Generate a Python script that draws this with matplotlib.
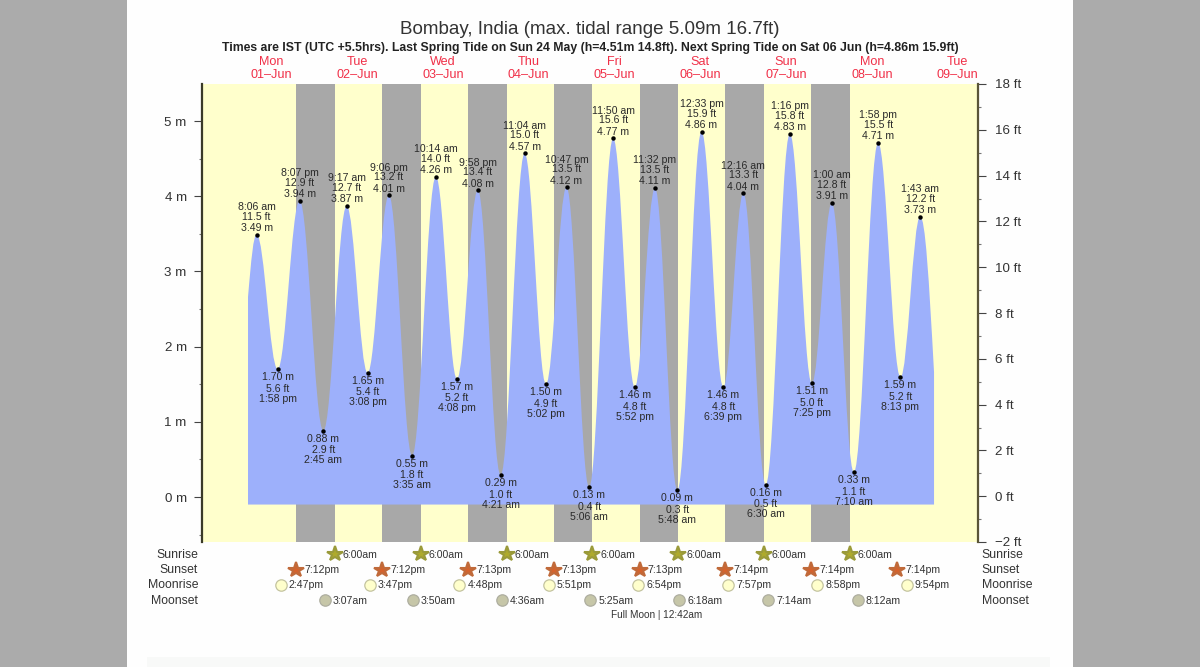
import matplotlib
matplotlib.use("Agg")
import matplotlib.pyplot as plt
from matplotlib.patches import PathPatch, Rectangle
from matplotlib.path import Path
from matplotlib.ticker import FixedLocator

plt.rcParams['font.family'] = ['Liberation Sans', 'DejaVu Sans']

day_names = ['Mon', 'Tue', 'Wed', 'Thu', 'Fri', 'Sat', 'Sun', 'Mon', 'Tue']
day_dates = ['01–Jun', '02–Jun', '03–Jun', '04–Jun', '05–Jun', '06–Jun', '07–Jun', '08–Jun', '09–Jun']

# high and low tides, day = days after 01-Jun
tide_day = [0, 0, 0, 1, 1, 1, 1, 2, 2, 2, 2, 3, 3, 3, 3, 4, 4, 4, 4, 5, 5, 5, 6, 6, 6, 6, 7, 7, 7, 7, 8]
tide_time = ['8:06 am', '1:58 pm', '8:07 pm', '2:45 am', '9:17 am', '3:08 pm', '9:06 pm', '3:35 am',
             '10:14 am', '4:08 pm', '9:58 pm', '4:21 am', '11:04 am', '5:02 pm', '10:47 pm', '5:06 am',
             '11:50 am', '5:52 pm', '11:32 pm', '5:48 am', '12:33 pm', '6:39 pm', '12:16 am', '6:30 am',
             '1:16 pm', '7:25 pm', '1:00 am', '7:10 am', '1:58 pm', '8:13 pm', '1:43 am']
tide_m = [3.49, 1.70, 3.94, 0.88, 3.87, 1.65, 4.01, 0.55, 4.26, 1.57, 4.08, 0.29, 4.57, 1.50, 4.12, 0.13,
          4.77, 1.46, 4.11, 0.09, 4.86, 1.46, 4.04, 0.16, 4.83, 1.51, 3.91, 0.33, 4.71, 1.59, 3.73]
tide_ft = [11.5, 5.6, 12.9, 2.9, 12.7, 5.4, 13.2, 1.8, 14.0, 5.2, 13.4, 1.0, 15.0, 4.9, 13.5, 0.4,
           15.6, 4.8, 13.5, 0.3, 15.9, 4.8, 13.3, 0.5, 15.8, 5.0, 12.8, 1.1, 15.5, 5.2, 12.2]

# where the water shape starts and stops, hours after 01-Jun 00:00
start_hour, start_m = 5.68, 2.66
end_hour, end_m = 197.6, 1.66
floor_m = -0.1

sunrise_day = [1, 2, 3, 4, 5, 6, 7]
sunrise_time = ['6:00am'] * 7
sunset_day = [0, 1, 2, 3, 4, 5, 6, 7]
sunset_time = ['7:12pm', '7:12pm', '7:13pm', '7:13pm', '7:13pm', '7:14pm', '7:14pm', '7:14pm']
moonrise_day = [0, 1, 2, 3, 4, 5, 6, 7]
moonrise_time = ['2:47pm', '3:47pm', '4:48pm', '5:51pm', '6:54pm', '7:57pm', '8:58pm', '9:54pm']
moonset_day = [1, 2, 3, 4, 5, 6, 7]
moonset_time = ['3:07am', '3:50am', '4:36am', '5:25am', '6:18am', '7:14am', '8:12am']

m_ticks = [0, 1, 2, 3, 4, 5]
m_minor = [-0.5, 0.5, 1.5, 2.5, 3.5, 4.5]
m_labels = ['0 m', '1 m', '2 m', '3 m', '4 m', '5 m']
ft_ticks = [-2, 0, 2, 4, 6, 8, 10, 12, 14, 16, 18]
ft_minor = [-1, 1, 3, 5, 7, 9, 11, 13, 15, 17]
ft_labels = ['−2 ft', '0 ft', '2 ft', '4 ft', '6 ft', '8 ft', '10 ft', '12 ft', '14 ft', '16 ft', '18 ft']

YELLOW = '#ffffcc'
NIGHT = '#a8a8a8'
WATER = '#9db0fb'
TEXT = '#2a2a2a'
W, H = 1200, 667


def hours(day, label):
    # '8:06 am' or '7:12pm' on a day -> hours after 01-Jun 00:00
    label = label.replace(' ', '')
    hh, mm = label[:-2].split(':')
    hh = int(hh) % 12
    if label.endswith('pm'):
        hh += 12
    return day * 24 + hh + int(mm) / 60


def row_y(py):
    return (542 - py) / 458


fig = plt.figure(figsize=(12, 6.67), dpi=100, facecolor='#ababab')
# page behind the chart
fig.patches.append(Rectangle((127 / W, 0), 946 / W, 1, transform=fig.transFigure, facecolor='#fefefe', edgecolor='none', zorder=-2))
fig.patches.append(Rectangle((147 / W, 0), 903 / W, 10 / H, transform=fig.transFigure, facecolor='#f8f9f8', edgecolor='none', zorder=-1))

ax = fig.add_axes([202 / W, (H - 542) / H, 776 / W, 458 / H])
ax.set_facecolor(YELLOW)
ax.set_xlim(-7.19, 209.9)
ax.set_ylim(-0.598, 5.492)

# night bands
for d1, t1, d2, t2 in zip(sunset_day, sunset_time, sunrise_day, sunrise_time):
    ax.axvspan(hours(d1, t1), hours(d2, t2), color=NIGHT, lw=0, zorder=1)

tide_hours = [hours(d, t) for d, t in zip(tide_day, tide_time)]

# water shape: bezier from tide to tide, flat at each high and low
k = 0.37
verts = [(start_hour, floor_m), (start_hour, start_m)]
codes = [Path.MOVETO, Path.LINETO]
dt = tide_hours[0] - start_hour
verts += [(start_hour + k * dt, start_m + 0.6 * (tide_m[0] - start_m)), (tide_hours[0] - k * dt, tide_m[0]), (tide_hours[0], tide_m[0])]
codes += [Path.CURVE4] * 3
for i in range(len(tide_m) - 1):
    dt = tide_hours[i + 1] - tide_hours[i]
    verts += [(tide_hours[i] + k * dt, tide_m[i]), (tide_hours[i + 1] - k * dt, tide_m[i + 1]), (tide_hours[i + 1], tide_m[i + 1])]
    codes += [Path.CURVE4] * 3
dt = end_hour - tide_hours[-1]
verts += [(tide_hours[-1] + k * dt, tide_m[-1]), (end_hour - k * dt, end_m + 0.6 * (tide_m[-1] - end_m)), (end_hour, end_m)]
codes += [Path.CURVE4] * 3
verts += [(end_hour, floor_m), (start_hour, floor_m)]
codes += [Path.LINETO, Path.CLOSEPOLY]
ax.add_patch(PathPatch(Path(verts, codes), facecolor=WATER, edgecolor='none', zorder=2))

# tide dots and their labels
ax.plot(tide_hours, tide_m, 'o', color='black', ms=3.2, mew=0, zorder=4)
for i in range(len(tide_m)):
    sign = 1 if i % 2 == 0 else -1
    if sign > 0:
        rows = [(f'{tide_m[i]:.2f} m', 6.5), (f'{tide_ft[i]:.1f} ft', 18), (tide_time[i], 27.5)]
    else:
        rows = [(f'{tide_m[i]:.2f} m', 8), (f'{tide_ft[i]:.1f} ft', 19.5), (tide_time[i], 29.5)]
    for txt, off in rows:
        ax.annotate(txt, (tide_hours[i], tide_m[i]), xytext=(0, sign * off), textcoords='offset pixels',
                    ha='center', va='center', fontsize=7.6, color=TEXT, zorder=5)

# axes
for s in ['top', 'bottom', 'right']:
    ax.spines[s].set_visible(False)
ax.spines['left'].set_linewidth(1.6)
ax.spines['left'].set_color('#3a3a28')
ax.set_xticks([])
ax.yaxis.set_major_locator(FixedLocator(m_ticks))
ax.yaxis.set_minor_locator(FixedLocator(m_minor))
ax.set_yticklabels(m_labels)
ax.tick_params(axis='y', which='major', length=6, width=0.8, pad=5, labelsize=9.6, labelcolor='#333333', color='#444444')
ax.tick_params(axis='y', which='minor', length=2.5, width=0.8, color='#777777')

ax2 = ax.twinx()
ax2.set_ylim(-2, 18)
for s in ['top', 'bottom', 'left']:
    ax2.spines[s].set_visible(False)
ax2.spines['right'].set_linewidth(1.6)
ax2.spines['right'].set_color('#5a5538')
ax2.yaxis.set_major_locator(FixedLocator(ft_ticks))
ax2.yaxis.set_minor_locator(FixedLocator(ft_minor))
ax2.set_yticklabels(ft_labels)
ax2.tick_params(axis='y', which='major', length=6, width=0.8, pad=6, labelsize=9.6, labelcolor='#333333', color='#444444')
ax2.tick_params(axis='y', which='minor', length=2.5, width=0.8, color='#777777')

# headings
fig.text(590 / W, 1 - 29 / H, 'Bombay, India (max. tidal range 5.09m 16.7ft)', ha='center', va='center',
         fontsize=13.5, color='#333333')
fig.text(590 / W, 1 - 47.5 / H,
         'Times are IST (UTC +5.5hrs). Last Spring Tide on Sun 24 May (h=4.51m 14.8ft). Next Spring Tide on Sat 06 Jun (h=4.86m 15.9ft)',
         ha='center', va='center', fontsize=8.8, fontweight='bold', color='#222222')
trans = ax.get_xaxis_transform()
for i in range(len(day_names)):
    x = i * 24 + 12.2
    ax.text(x, row_y(62), day_names[i], transform=trans, ha='center', va='center', fontsize=9.1, color='#f03048', clip_on=False)
    ax.text(x, row_y(75), day_dates[i], transform=trans, ha='center', va='center', fontsize=9.1, color='#f03048', clip_on=False)

# sun and moon rows
rows = [('Sunrise', 554.5, sunrise_day, sunrise_time, '*', '#aeaa2c', '#9a9a3a', 11.5, 1.5),
        ('Sunset', 570, sunset_day, sunset_time, '*', '#d4622c', '#c06a3a', 11.5, 1.5),
        ('Moonrise', 585, moonrise_day, moonrise_time, 'o', '#ffffcc', '#c4c4a0', 8.2, 0.9),
        ('Moonset', 600.5, moonset_day, moonset_time, 'o', '#c6c6a8', '#aeaea0', 8.2, 0.9)]
for name, py, days, times, marker, face, edge, size, mew in rows:
    ax.text(-0.005, row_y(py), name, transform=ax.transAxes, ha='right', va='center', fontsize=8.8, color='#333333', clip_on=False)
    ax.text(1.005, row_y(py), name, transform=ax.transAxes, ha='left', va='center', fontsize=8.8, color='#333333', clip_on=False)
    for d, t in zip(days, times):
        x = hours(d, t)
        ax.plot([x], [row_y(py - 0.5)], marker=marker, ms=size, mfc=face, mec=edge, mew=mew, transform=trans, clip_on=False, zorder=6)
        ax.annotate(t, (x, row_y(py)), xycoords=trans, xytext=(8, 0), textcoords='offset pixels',
                    ha='left', va='center', fontsize=7.6, color='#333333', annotation_clip=False)

fig.text(657 / W, 1 - 615 / H, 'Full Moon | 12:42am', ha='center', va='center', fontsize=7.2, color='#333333')

fig.savefig('out.png', dpi=100, facecolor=fig.get_facecolor())
